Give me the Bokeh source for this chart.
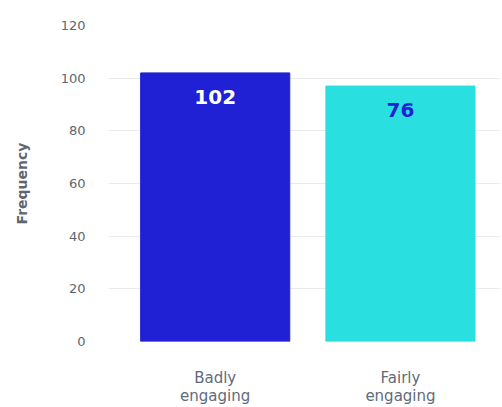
from bokeh.plotting import figure
from bokeh.models import ColumnDataSource, Range1d, FixedTicker
from bokeh.core.properties import value
from bokeh.embed import file_html
from bokeh.resources import INLINE

categories = ["Badly\nengaging", "Fairly\nengaging"]
bar_values = [102, 97]
bar_labels = ["102", "76"]
bar_colors = ["#2020D4", "#2ADFE0"]
label_colors = ["#FFFFFF", "#2020D4"]
y_ticks = [0, 20, 40, 60, 80, 100, 120]

xs = list(range(len(categories)))
src = ColumnDataSource(dict(x=xs, top=bar_values, color=bar_colors,
                            label=bar_labels, lcolor=label_colors))

p = figure(width=502, height=407, output_backend="svg", toolbar_location=None,
           x_range=Range1d(-0.576, 1.54), y_range=Range1d(0, 120),
           min_border_left=108, min_border_right=2, min_border_top=25,
           min_border_bottom=66)
p.outline_line_color = None
p.background_fill_color = "white"

p.vbar(x="x", top="top", width=0.805, color="color", source=src)
p.text(x="x", y="top", text="label", text_color="lcolor", source=src,
       text_align="center", text_baseline="middle", y_offset=24,
       text_font=value("DejaVu Sans"), text_font_style="bold",
       text_font_size="20px")

p.yaxis.ticker = FixedTicker(ticks=y_ticks)
p.yaxis.axis_line_color = None
p.yaxis.major_tick_line_color = None
p.yaxis.minor_tick_line_color = None
p.yaxis.major_label_standoff = 17
p.yaxis.major_label_text_font = "DejaVu Sans"
p.yaxis.major_label_text_font_size = "13px"
p.yaxis.major_label_text_color = "#5F6670"
p.yaxis.axis_label = "Frequency"
p.yaxis.axis_label_text_font = "DejaVu Sans"
p.yaxis.axis_label_text_font_style = "bold"
p.yaxis.axis_label_text_font_size = "14px"
p.yaxis.axis_label_text_color = "#5F6670"
p.yaxis.axis_label_standoff = 28

p.xaxis.ticker = FixedTicker(ticks=xs)
p.xaxis.major_label_overrides = {i: c for i, c in zip(xs, categories)}
p.xaxis.axis_line_color = None
p.xaxis.major_tick_line_color = None
p.xaxis.minor_tick_line_color = None
p.xaxis.major_label_standoff = 21
p.xaxis.major_label_text_font = "DejaVu Sans"
p.xaxis.major_label_text_font_size = "15px"
p.xaxis.major_label_text_line_height = 1.0
p.xaxis.major_label_text_color = "#5F6B7A"

p.xgrid.grid_line_color = None
p.ygrid.grid_line_color = "#EBEBEB"
p.ygrid.grid_line_width = 1

open("out.html", "w").write(file_html(p, INLINE))
